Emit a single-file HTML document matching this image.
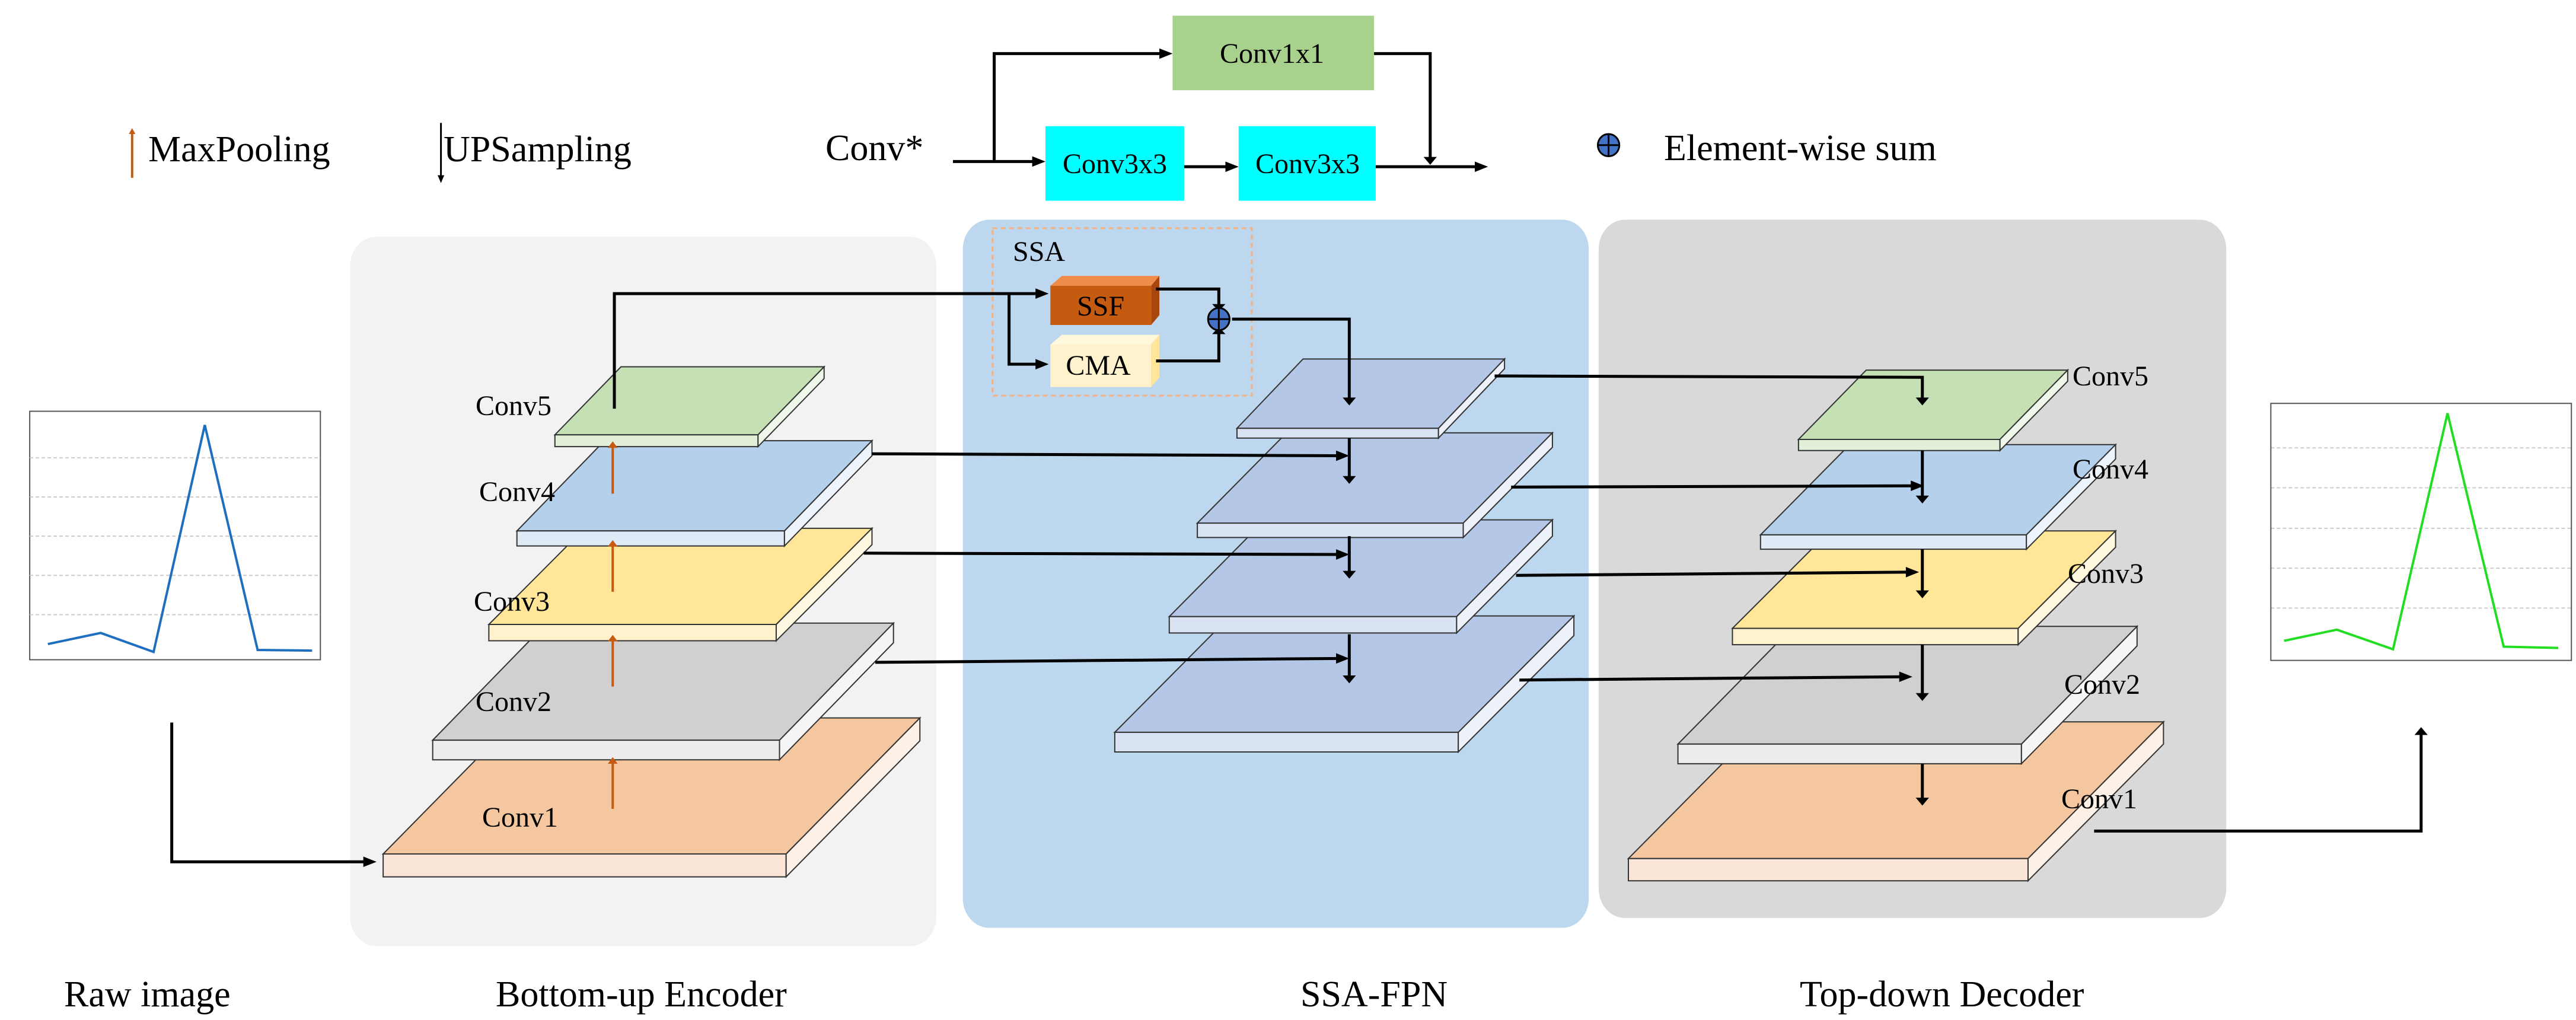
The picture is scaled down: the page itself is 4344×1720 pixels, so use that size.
<!DOCTYPE html>
<html><head><meta charset="utf-8"><style>
html,body{margin:0;padding:0;background:#fff}
svg{position:absolute;left:0;top:0}
text{font-family:"Liberation Serif",serif;fill:#000}
</style></head><body>
<svg width="4344" height="1720" viewBox="0 0 4344 1720">
<g transform="scale(2.785,1.1026)">
<rect x="212" y="362" width="355" height="1085" rx="16" ry="45" fill="#f2f2f2"/>
<rect x="583" y="336" width="379" height="1083" rx="16" ry="45" fill="#bdd7ee"/>
<rect x="968" y="336" width="380" height="1068" rx="16" ry="45" fill="#d9d9d9"/>

<g stroke="#333" stroke-width="2" vector-effect="non-scaling-stroke">
<polygon points="313,1098 557,1098 476,1306 232,1306" fill="#f4c7a0" vector-effect="non-scaling-stroke"/>
<rect x="232" y="1306" width="244" height="35" fill="#fbe5d6" vector-effect="non-scaling-stroke"/>
<polygon points="476,1306 557,1098 557,1133 476,1341" fill="#fdf0e6" vector-effect="non-scaling-stroke"/>

<polygon points="331,953 541,953 472,1132 262,1132" fill="#d0d0d0" vector-effect="non-scaling-stroke"/>
<rect x="262" y="1132" width="210" height="30" fill="#ececec" vector-effect="non-scaling-stroke"/>
<polygon points="472,1132 541,953 541,983 472,1162" fill="#f5f5f5" vector-effect="non-scaling-stroke"/>

<polygon points="354,808 528,808 470,955 296,955" fill="#ffe699" vector-effect="non-scaling-stroke"/>
<rect x="296" y="955" width="174" height="25" fill="#fff2cc" vector-effect="non-scaling-stroke"/>
<polygon points="470,955 528,808 528,833 470,980" fill="#fff8e0" vector-effect="non-scaling-stroke"/>

<polygon points="366,674 528,674 475,812 313,812" fill="#b4d0ea" vector-effect="non-scaling-stroke"/>
<rect x="313" y="812" width="162" height="23" fill="#deebf7" vector-effect="non-scaling-stroke"/>
<polygon points="475,812 528,674 528,697 475,835" fill="#eef4fb" vector-effect="non-scaling-stroke"/>

<polygon points="376,561 499,561 459,665 336,665" fill="#c5e0b4" vector-effect="non-scaling-stroke"/>
<rect x="336" y="665" width="123" height="18" fill="#e2f0d9" vector-effect="non-scaling-stroke"/>
<polygon points="459,665 499,561 499,579 459,683" fill="#eef7e8" vector-effect="non-scaling-stroke"/>

<polygon points="745,942 953,942 883,1120 675,1120" fill="#b4c7e7" vector-effect="non-scaling-stroke"/>
<rect x="675" y="1120" width="208" height="30" fill="#dae3f3" vector-effect="non-scaling-stroke"/>
<polygon points="883,1120 953,942 953,972 883,1150" fill="#edf2fa" vector-effect="non-scaling-stroke"/>

<polygon points="766,795 940,795 882,943 708,943" fill="#b4c7e7" vector-effect="non-scaling-stroke"/>
<rect x="708" y="943" width="174" height="25" fill="#dae3f3" vector-effect="non-scaling-stroke"/>
<polygon points="882,943 940,795 940,820 882,968" fill="#edf2fa" vector-effect="non-scaling-stroke"/>

<polygon points="779,662 940,662 886,800 725,800" fill="#b4c7e7" vector-effect="non-scaling-stroke"/>
<rect x="725" y="800" width="161" height="22" fill="#dae3f3" vector-effect="non-scaling-stroke"/>
<polygon points="886,800 940,662 940,684 886,822" fill="#edf2fa" vector-effect="non-scaling-stroke"/>

<polygon points="789,549 911,549 871,655 749,655" fill="#b4c7e7" vector-effect="non-scaling-stroke"/>
<rect x="749" y="655" width="122" height="15" fill="#dae3f3" vector-effect="non-scaling-stroke"/>
<polygon points="871,655 911,549 911,564 871,670" fill="#edf2fa" vector-effect="non-scaling-stroke"/>

<polygon points="1068,1104 1310,1104 1228,1313 986,1313" fill="#f4c7a0" vector-effect="non-scaling-stroke"/>
<rect x="986" y="1313" width="242" height="34" fill="#fbe5d6" vector-effect="non-scaling-stroke"/>
<polygon points="1228,1313 1310,1104 1310,1138 1228,1347" fill="#fdf0e6" vector-effect="non-scaling-stroke"/>

<polygon points="1086,958 1294,958 1224,1138 1016,1138" fill="#d0d0d0" vector-effect="non-scaling-stroke"/>
<rect x="1016" y="1138" width="208" height="30" fill="#ececec" vector-effect="non-scaling-stroke"/>
<polygon points="1224,1138 1294,958 1294,988 1224,1168" fill="#f5f5f5" vector-effect="non-scaling-stroke"/>

<polygon points="1108,812 1281,812 1222,961 1049,961" fill="#ffe699" vector-effect="non-scaling-stroke"/>
<rect x="1049" y="961" width="173" height="25" fill="#fff2cc" vector-effect="non-scaling-stroke"/>
<polygon points="1222,961 1281,812 1281,837 1222,986" fill="#fff8e0" vector-effect="non-scaling-stroke"/>

<polygon points="1120,680 1281,680 1227,818 1066,818" fill="#b4d0ea" vector-effect="non-scaling-stroke"/>
<rect x="1066" y="818" width="161" height="22" fill="#deebf7" vector-effect="non-scaling-stroke"/>
<polygon points="1227,818 1281,680 1281,702 1227,840" fill="#eef4fb" vector-effect="non-scaling-stroke"/>

<polygon points="1130,566 1252,566 1211,672 1089,672" fill="#c5e0b4" vector-effect="non-scaling-stroke"/>
<rect x="1089" y="672" width="122" height="17" fill="#e2f0d9" vector-effect="non-scaling-stroke"/>
<polygon points="1211,672 1252,566 1252,583 1211,689" fill="#eef7e8" vector-effect="non-scaling-stroke"/>
</g>

<rect x="710" y="24" width="122" height="114" fill="#a9d18e"/>
<rect x="633" y="193" width="84" height="114" fill="#00ffff"/>
<rect x="750" y="193" width="83" height="114" fill="#00ffff"/>

<rect x="601" y="349" width="157" height="256" fill="none" stroke="#f4b183" stroke-width="3" stroke-dasharray="8,6" vector-effect="non-scaling-stroke"/>
<polygon points="636,437 643,422 702,422 697,437" fill="#f08c4a"/>
<polygon points="697,437 702,422 702,482 697,497" fill="#a8470d"/>
<rect x="636" y="437" width="61" height="60" fill="#c55a11"/>
<polygon points="636,527 643,512 702,512 697,527" fill="#fff8dc"/>
<polygon points="697,527 702,512 702,577 697,592" fill="#ffe699"/>
<rect x="636" y="527" width="61" height="65" fill="#fff2cc"/>

<rect x="18" y="629" width="176" height="380" fill="#fff" stroke="#555" stroke-width="2" vector-effect="non-scaling-stroke"/>
<g stroke="#ccc" stroke-width="2" stroke-dasharray="6,4" vector-effect="non-scaling-stroke">
<line x1="18" y1="700" x2="194" y2="700" vector-effect="non-scaling-stroke"/>
<line x1="18" y1="760" x2="194" y2="760" vector-effect="non-scaling-stroke"/>
<line x1="18" y1="820" x2="194" y2="820" vector-effect="non-scaling-stroke"/>
<line x1="18" y1="880" x2="194" y2="880" vector-effect="non-scaling-stroke"/>
<line x1="18" y1="940" x2="194" y2="940" vector-effect="non-scaling-stroke"/>
<line x1="1375" y1="685" x2="1557" y2="685" vector-effect="non-scaling-stroke"/>
<line x1="1375" y1="746" x2="1557" y2="746" vector-effect="non-scaling-stroke"/>
<line x1="1375" y1="808" x2="1557" y2="808" vector-effect="non-scaling-stroke"/>
<line x1="1375" y1="869" x2="1557" y2="869" vector-effect="non-scaling-stroke"/>
<line x1="1375" y1="930" x2="1557" y2="930" vector-effect="non-scaling-stroke"/>
</g>
<polyline points="29,985 61,968 93,997 124,650 156,994 189,995" fill="none" stroke="#1f6fc0" stroke-width="4" vector-effect="non-scaling-stroke"/>
<rect x="1375" y="617" width="182" height="393" fill="none" stroke="#555" stroke-width="2" vector-effect="non-scaling-stroke"/>
<polyline points="1383,980 1415,963 1449,993 1482,632 1516,989 1549,991" fill="none" stroke="#22dd22" stroke-width="4" vector-effect="non-scaling-stroke"/>

<g fill="none" stroke="#000" stroke-width="5" vector-effect="non-scaling-stroke">
<polyline points="577,247 628,247" vector-effect="non-scaling-stroke"/>
<polyline points="602,247 602,82 705,82" vector-effect="non-scaling-stroke"/>
<polyline points="832,82 866,82 866,248" vector-effect="non-scaling-stroke"/>
<polyline points="717,255 745,255" vector-effect="non-scaling-stroke"/>
<polyline points="833,255 896,255" vector-effect="non-scaling-stroke"/>
<polyline points="372,625 372,449 630,449" vector-effect="non-scaling-stroke"/>
<polyline points="611,449 611,557 630,557" vector-effect="non-scaling-stroke"/>
<polyline points="700,442 738,442 738,468" vector-effect="non-scaling-stroke"/>
<polyline points="700,552 738,552 738,508" vector-effect="non-scaling-stroke"/>
<polyline points="746,488 817,488 817,612" vector-effect="non-scaling-stroke"/>
<polyline points="528,694 812,697" vector-effect="non-scaling-stroke"/>
<polyline points="523,846 812,848" vector-effect="non-scaling-stroke"/>
<polyline points="530,1013 812,1007" vector-effect="non-scaling-stroke"/>
<polyline points="817,670 817,732" vector-effect="non-scaling-stroke"/>
<polyline points="817,820 817,877" vector-effect="non-scaling-stroke"/>
<polyline points="817,970 817,1037" vector-effect="non-scaling-stroke"/>
<polyline points="905,575 1164,577 1164,612" vector-effect="non-scaling-stroke"/>
<polyline points="915,745 1160,743" vector-effect="non-scaling-stroke"/>
<polyline points="918,880 1157,875" vector-effect="non-scaling-stroke"/>
<polyline points="920,1040 1153,1035" vector-effect="non-scaling-stroke"/>
<polyline points="1164,689 1164,762" vector-effect="non-scaling-stroke"/>
<polyline points="1164,840 1164,907" vector-effect="non-scaling-stroke"/>
<polyline points="1164,986 1164,1064" vector-effect="non-scaling-stroke"/>
<polyline points="1164,1168 1164,1224" vector-effect="non-scaling-stroke"/>
<polyline points="1268,1271 1466,1271 1466,1120" vector-effect="non-scaling-stroke"/>
<polyline points="104,1105 104,1318 222,1318" vector-effect="non-scaling-stroke"/>
<polyline points="267,188 267,272" stroke-width="3" vector-effect="non-scaling-stroke"/>
</g>
<g stroke="#c55a11" stroke-width="4" vector-effect="non-scaling-stroke" fill="none">
<line x1="80" y1="272" x2="80" y2="205" vector-effect="non-scaling-stroke"/>
<line x1="371" y1="755" x2="371" y2="683" vector-effect="non-scaling-stroke"/>
<line x1="371" y1="905" x2="371" y2="834" vector-effect="non-scaling-stroke"/>
<line x1="371" y1="1050" x2="371" y2="979" vector-effect="non-scaling-stroke"/>
<line x1="371" y1="1237" x2="371" y2="1166" vector-effect="non-scaling-stroke"/>
</g>
<g fill="#c55a11">
<polygon points="78,205 82,205 80,196"/>
<polygon points="368,685 374,685 371,675"/>
<polygon points="368,836 374,836 371,826"/>
<polygon points="368,981 374,981 371,971"/>
<polygon points="368,1168 374,1168 371,1158"/>
</g>
<g fill="#000">
<polygon points="625,239 625,255 633,247"/>
<polygon points="702,74 702,90 710,82"/>
<polygon points="862,240 870,240 866,252"/>
<polygon points="742,247 742,263 750,255"/>
<polygon points="893,247 893,263 901,255"/>
<polygon points="627,441 627,457 635,449"/>
<polygon points="627,549 627,565 635,557"/>
<polygon points="734,465 742,465 738,476"/>
<polygon points="734,511 742,511 738,500"/>
<polygon points="813,608 821,608 817,620"/>
<polygon points="809,689 809,705 817,697"/>
<polygon points="809,840 809,856 817,848"/>
<polygon points="809,999 809,1015 817,1007"/>
<polygon points="813,728 821,728 817,740"/>
<polygon points="813,873 821,873 817,885"/>
<polygon points="813,1033 821,1033 817,1045"/>
<polygon points="1160,608 1168,608 1164,620"/>
<polygon points="1157,735 1157,751 1165,743"/>
<polygon points="1154,867 1154,883 1162,875"/>
<polygon points="1150,1027 1150,1043 1158,1035"/>
<polygon points="1160,758 1168,758 1164,770"/>
<polygon points="1160,903 1168,903 1164,915"/>
<polygon points="1160,1060 1168,1060 1164,1072"/>
<polygon points="1160,1220 1168,1220 1164,1232"/>
<polygon points="1462,1124 1470,1124 1466,1112"/>
<polygon points="220,1310 220,1326 228,1318"/>
<polygon points="265,268 269,268 267,280"/>
</g>
<ellipse cx="738" cy="488" rx="6.5" ry="17" fill="#4472c4" stroke="#000" stroke-width="3" vector-effect="non-scaling-stroke"/>
<line x1="731.5" y1="488" x2="744.5" y2="488" stroke="#000" stroke-width="3" vector-effect="non-scaling-stroke"/>
<line x1="738" y1="471" x2="738" y2="505" stroke="#000" stroke-width="3" vector-effect="non-scaling-stroke"/>
<ellipse cx="974" cy="222" rx="6.5" ry="17" fill="#4472c4" stroke="#000" stroke-width="3" vector-effect="non-scaling-stroke"/>
<line x1="967.5" y1="222" x2="980.5" y2="222" stroke="#000" stroke-width="3" vector-effect="non-scaling-stroke"/>
<line x1="974" y1="205" x2="974" y2="239" stroke="#000" stroke-width="3" vector-effect="non-scaling-stroke"/>
</g>

<g font-size="62" font-family="Liberation Serif, serif">
<text x="250" y="272">MaxPooling</text>
<text x="748" y="272">UPSampling</text>
<text x="1392" y="270">Conv*</text>
<text x="2806" y="270">Element-wise sum</text>
<text x="108" y="1697">Raw image</text>
<text x="836" y="1697">Bottom-up Encoder</text>
<text x="2193" y="1697">SSA-FPN</text>
<text x="3035" y="1697">Top-down Decoder</text>
</g>
<g font-size="48" text-anchor="middle" font-family="Liberation Serif, serif">
<text x="2145" y="106">Conv1x1</text>
<text x="1880" y="292">Conv3x3</text>
<text x="2205" y="292">Conv3x3</text>
<text x="1856" y="532">SSF</text>
<text x="1852" y="632">CMA</text>
</g>
<g font-size="48" font-family="Liberation Serif, serif">
<text x="1708" y="440">SSA</text>
<text x="802" y="700">Conv5</text>
<text x="808" y="845">Conv4</text>
<text x="799" y="1030">Conv3</text>
<text x="802" y="1199">Conv2</text>
<text x="813" y="1394">Conv1</text>
<text x="3495" y="650">Conv5</text>
<text x="3495" y="807">Conv4</text>
<text x="3487" y="983">Conv3</text>
<text x="3481" y="1170">Conv2</text>
<text x="3476" y="1363">Conv1</text>
</g>
</svg>
</body></html>
